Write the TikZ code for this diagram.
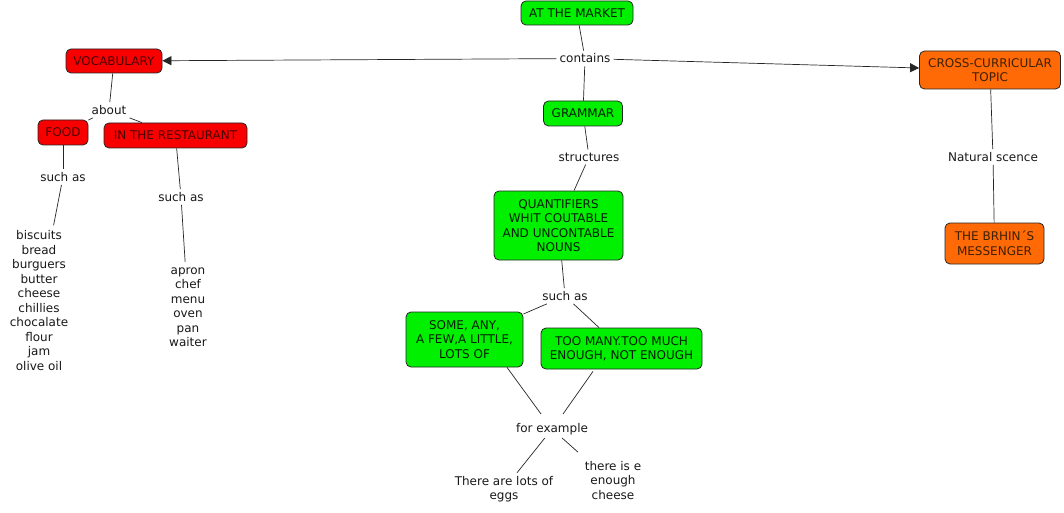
\documentclass[tikz,border=0pt]{standalone}
\usepackage{fontspec}
\setmainfont{DejaVu Sans}
\usetikzlibrary{arrows.meta}
\definecolor{cgreen}{HTML}{00F000}
\definecolor{cred}{HTML}{F80000}
\definecolor{corange}{HTML}{FF6A06}
\tikzset{
  box/.style={draw=black!85, line width=0.8pt, rounded corners=5pt, align=center, inner sep=0pt,
    font=\fontsize{12}{14.5}\selectfont},
  gbox/.style={box, fill=cgreen, text=black!80!green!60!black},
  rbox/.style={box, fill=cred, text=black!70!red},
  obox/.style={box, fill=corange, text=black!75!orange},
  lab/.style={align=center, inner sep=3pt, font=\fontsize{12}{14.5}\selectfont, text=black!90},
  conn/.style={draw=black!85, line width=0.7pt},
  arr/.style={conn, -{Triangle[length=9pt,width=9pt]}}
}
\begin{document}
\begin{tikzpicture}[x=1pt,y=-1pt]
\useasboundingbox (0,0) rectangle (1064,513);
\fill[white] (0,0) rectangle (1064,513);
% boxes
\node[gbox, minimum width=112pt, minimum height=24pt] (market) at (577,13) {AT THE MARKET};
\node[rbox, minimum width=96pt, minimum height=24pt] (vocab) at (114,61) {VOCABULARY};
\node[obox, minimum width=141pt, minimum height=38pt] (cross) at (990,70) {CROSS-CURRICULAR\\TOPIC};
\node[gbox, minimum width=79pt, minimum height=25pt] (grammar) at (583,113.5) {GRAMMAR};
\node[rbox, minimum width=50pt, minimum height=25pt] (food) at (63,132.5) {FOOD};
\node[rbox, minimum width=143pt, minimum height=25pt] (rest) at (175.5,135.5) {IN THE RESTAURANT};
\node[gbox, minimum width=129pt, minimum height=69pt] (quant) at (558.5,225.5) {QUANTIFIERS\\WHIT COUTABLE\\AND UNCONTABLE\\NOUNS};
\node[obox, minimum width=99pt, minimum height=41pt] (brhin) at (994.5,243.5) {THE BRHIN´S\\MESSENGER};
\node[gbox, minimum width=117pt, minimum height=55pt] (some) at (464.5,339.5) {SOME, ANY,\\A FEW,A LITTLE,\\LOTS OF};
\node[gbox, minimum width=161pt, minimum height=41pt] (toomany) at (621.5,348.5) {TOO MANY.TOO MUCH\\ENOUGH, NOT ENOUGH};
% labels
\node[lab] (contains) at (585,58.5) {contains};
\node[lab] (about) at (109,110) {about};
\node[lab] (suchfood) at (63,177) {such as};
\node[lab] (suchrest) at (181,197) {such as};
\node[lab] (structures) at (589,157) {structures};
\node[lab] (natural) at (993,157) {Natural scence};
\node[lab] (suchmid) at (565,296) {such as};
\node[lab] (forex) at (552,429) {for example};
\node[lab, inner sep=5pt] (foodlist) at (39,300.5) {biscuits\\bread\\burguers\\butter\\cheese\\chillies\\chocalate\\flour\\jam\\olive oil};
\node[lab, inner sep=5pt] (restlist) at (188,307) {apron\\chef\\menu\\oven\\pan\\waiter};
\node[lab] (eggs) at (504,489) {There are lots of\\eggs};
\node[lab] (cheese) at (613,480.5) {there is e\\enough\\cheese};
% connectors
\draw[conn] (market) -- (contains);
\draw[arr] (contains) -- (vocab);
\draw[arr] (contains) -- (cross);
\draw[conn] (contains) -- (grammar);
\draw[conn] (vocab) -- (about);
\draw[conn] (about) -- (food);
\draw[conn] (about) -- (rest);
\draw[conn] (food) -- (suchfood);
\draw[conn] (suchfood) -- (foodlist);
\draw[conn] (rest) -- (suchrest);
\draw[conn] (suchrest) -- (restlist);
\draw[conn] (grammar) -- (structures);
\draw[conn] (structures) -- (quant);
\draw[conn] (cross) -- (natural);
\draw[conn] (natural) -- (brhin);
\draw[conn] (quant) -- (suchmid);
\draw[conn] (suchmid) -- (some);
\draw[conn] (suchmid) -- (toomany);
\draw[conn] ([xshift=42.5pt]some.south) -- ([xshift=-11pt,yshift=15pt]forex.center);
\draw[conn] ([xshift=-28.5pt,yshift=-2pt]toomany.south) -- ([xshift=11pt,yshift=15pt]forex.center);
\draw[conn] (forex) -- (eggs);
\draw[conn] (forex) -- ([xshift=-35pt,yshift=6pt]cheese.north);
\end{tikzpicture}
\end{document}
